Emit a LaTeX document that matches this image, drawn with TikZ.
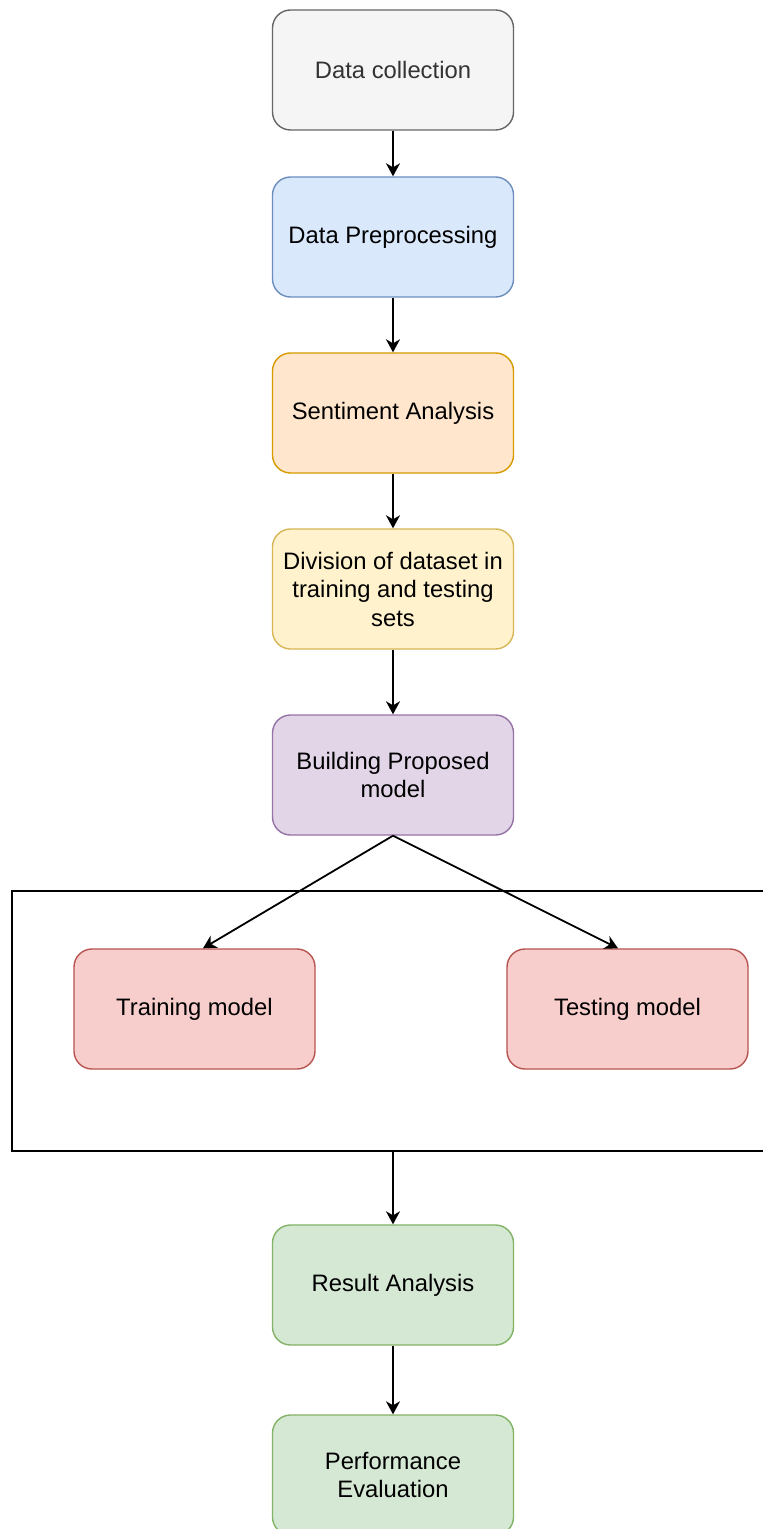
\documentclass[tikz,border=0pt]{standalone}
\usepackage{fontspec}
\setmainfont{Liberation Sans}
\usetikzlibrary{arrows.meta,calc}
\definecolor{grayF}{HTML}{F5F5F5}\definecolor{grayD}{HTML}{666666}
\definecolor{blueF}{HTML}{DAE8FC}\definecolor{blueD}{HTML}{6C8EBF}
\definecolor{orangeF}{HTML}{FFE6CC}\definecolor{orangeD}{HTML}{D79B00}
\definecolor{yellowF}{HTML}{FFF2CC}\definecolor{yellowD}{HTML}{D6B656}
\definecolor{purpleF}{HTML}{E1D5E7}\definecolor{purpleD}{HTML}{9673A6}
\definecolor{redF}{HTML}{F8CECC}\definecolor{redD}{HTML}{B85450}
\definecolor{greenF}{HTML}{D5E8D4}\definecolor{greenD}{HTML}{82B366}
\definecolor{txtgray}{HTML}{333333}
\begin{document}
\begin{tikzpicture}[x=0.5pt,y=-0.5pt,
  box/.style={draw, rounded corners=9pt, minimum width=120.5pt, minimum height=60pt,
    line width=0.7pt, align=center, inner sep=0pt,
    font=\fontsize{11.9}{14.25}\selectfont},
  gbox/.style={box, fill=grayF, draw=grayD, text=txtgray},
  bbox/.style={box, fill=blueF, draw=blueD},
  obox/.style={box, fill=orangeF, draw=orangeD},
  ybox/.style={box, fill=yellowF, draw=yellowD},
  pbox/.style={box, fill=purpleF, draw=purpleD},
  rbox/.style={box, fill=redF, draw=redD},
  grbox/.style={box, fill=greenF, draw=greenD},
  arr/.style={-{Stealth[length=6.5pt,width=7pt,inset=2pt]}, line width=0.9pt, draw=black}]
\clip (0,0) rectangle (763,1529);
\useasboundingbox (0,0) rectangle (763,1529);
\fill[white] (0,0) rectangle (763,1529);

\node[draw, line width=0.8pt, minimum width=384pt, minimum height=130pt, inner sep=0pt] (group) at (396,1021) {};

\node[gbox] (collect) at (393,70) {Data collection};
\node[bbox] (prep) at (393,237) {Data Preprocessing};
\node[obox] (senti) at (393,413) {Sentiment Analysis};
\node[ybox] (div) at (393,589) {Division of dataset in\\training and testing\\sets};
\node[pbox] (build) at (393,775) {Building Proposed\\model};
\node[rbox] (train) at (194.5,1009) {Training model};
\node[rbox] (test) at (627.5,1009) {Testing model};
\node[grbox] (result) at (393,1285) {Result Analysis};
\node[grbox] (perf) at (393,1475) {Performance\\Evaluation};

\coordinate (trainin) at ($(train.north)+(8.5,0)$);
\coordinate (testin) at ($(test.north)+(-9.5,0)$);

\draw[arr] (collect) -- (prep);
\draw[arr] (prep) -- (senti);
\draw[arr] (senti) -- (div);
\draw[arr] (div) -- (build);
\draw[arr] (build.south) -- (trainin);
\draw[arr] (build.south) -- (testin);
\draw[arr] (group.south -| result.north) -- (result.north);
\draw[arr] (result) -- (perf);
\end{tikzpicture}
\end{document}
